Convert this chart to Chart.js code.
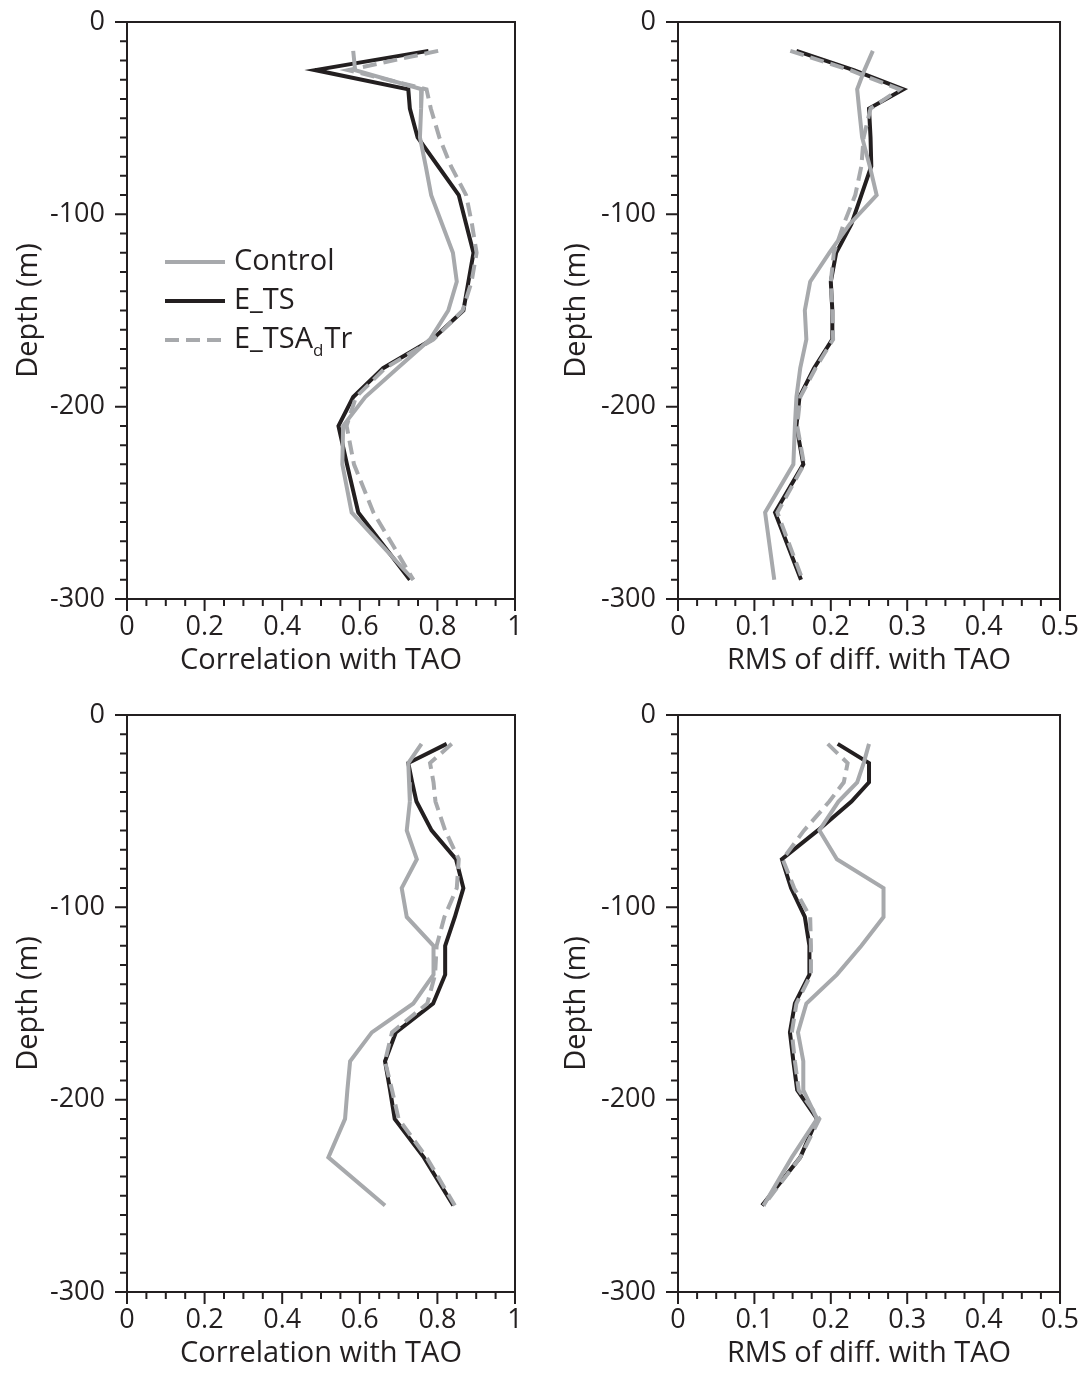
<!DOCTYPE html>
<html>
<head>
<meta charset="utf-8">
<script src="https://cdn.jsdelivr.net/npm/chart.js@4.4.1/dist/chart.umd.min.js"></script>
<style>
  body { margin: 0; background: #fff; width: 1091px; height: 1374px; overflow: hidden; position: relative; }
  canvas { position: absolute; }
</style>
</head>
<body>
<canvas id="corrTop" width="545" height="690" style="left:0;top:0"></canvas>
<canvas id="rmsTop" width="543" height="690" style="left:548px;top:0"></canvas>
<canvas id="corrBottom" width="545" height="690" style="left:0;top:693px"></canvas>
<canvas id="rmsBottom" width="543" height="690" style="left:548px;top:693px"></canvas>
<script>
// depth levels (m)
const depthsTop = [15, 25, 35, 45, 60, 75, 90, 105, 120, 135, 150, 165, 180, 195, 210, 230, 255, 290];
const depthsBottom = [15, 25, 35, 45, 60, 75, 90, 105, 120, 135, 150, 165, 180, 195, 210, 230, 255];

// top row: correlation with TAO
const corrControlTop = [0.583, 0.588, 0.76, 0.758, 0.755, 0.77, 0.784, 0.812, 0.84, 0.85, 0.828, 0.781, 0.697, 0.614, 0.557, 0.555, 0.579, 0.738];
const corrETSTop = [0.777, 0.485, 0.725, 0.729, 0.749, 0.802, 0.855, 0.874, 0.893, 0.88, 0.867, 0.787, 0.66, 0.583, 0.545, 0.567, 0.596, 0.729];
const corrTrTop = [0.802, 0.57, 0.772, 0.783, 0.805, 0.835, 0.874, 0.889, 0.901, 0.888, 0.865, 0.79, 0.665, 0.59, 0.566, 0.585, 0.635, 0.738];

// top row: RMS of difference with TAO
const rmsControlTop = [0.255, 0.244, 0.2345, 0.237, 0.241, 0.251, 0.26, 0.225, 0.198, 0.173, 0.166, 0.168, 0.16, 0.155, 0.153, 0.151, 0.114, 0.126];
const rmsETSTop = [0.155, 0.23, 0.295, 0.25, 0.252, 0.253, 0.24, 0.227, 0.207, 0.2, 0.202, 0.202, 0.178, 0.159, 0.155, 0.164, 0.127, 0.161];
const rmsTrTop = [0.147, 0.225, 0.29, 0.252, 0.243, 0.24, 0.232, 0.217, 0.204, 0.2, 0.202, 0.203, 0.18, 0.16, 0.156, 0.165, 0.13, 0.163];

// bottom row: correlation with TAO
const corrControlBottom = [0.759, 0.725, 0.727, 0.729, 0.721, 0.747, 0.708, 0.721, 0.79, 0.79, 0.738, 0.631, 0.575, 0.568, 0.562, 0.519, 0.665];
const corrETSBottom = [0.824, 0.725, 0.735, 0.746, 0.785, 0.848, 0.867, 0.845, 0.82, 0.82, 0.789, 0.693, 0.665, 0.678, 0.69, 0.765, 0.841];
const corrTrBottom = [0.837, 0.781, 0.79, 0.795, 0.82, 0.855, 0.85, 0.818, 0.798, 0.794, 0.774, 0.683, 0.665, 0.683, 0.7, 0.772, 0.845];

// bottom row: RMS of difference with TAO
const rmsControlBottom = [0.25, 0.243, 0.2345, 0.21, 0.185, 0.208, 0.269, 0.269, 0.24, 0.208, 0.168, 0.157, 0.164, 0.164, 0.182, 0.149, 0.112];
const rmsETSBottom = [0.209, 0.25, 0.25, 0.227, 0.183, 0.136, 0.148, 0.166, 0.172, 0.172, 0.153, 0.1465, 0.151, 0.156, 0.182, 0.16, 0.11];
const rmsTrBottom = [0.196, 0.222, 0.217, 0.198, 0.165, 0.137, 0.152, 0.173, 0.174, 0.174, 0.155, 0.149, 0.153, 0.158, 0.185, 0.16, 0.112];

const seriesNames = ['Control', 'E_TS', 'E_TSA_dTr'];
const corrTicks = ['0', '0.2', '0.4', '0.6', '0.8', '1'];
const rmsTicks = ['0', '0.1', '0.2', '0.3', '0.4', '0.5'];

const ink = '#231f20';
const grey = '#a7a9ac';
const FONT = '"Open Sans", "Noto Sans", sans-serif';
const tickSize = 27;
const titleSize = 29;

function profile(values, depths) {
    return values.map((v, i) => ({ x: v, y: -depths[i] }));
}

// box round the plot + outward ticks (major and minor)
const frameTicks = {
    id: 'frameTicks',
    afterDraw(chart, args, opts) {
        const { ctx, chartArea: a, scales: { x, y } } = chart;
        ctx.save();
        ctx.strokeStyle = ink;
        ctx.lineWidth = 2;
        ctx.strokeRect(a.left, a.top, a.right - a.left, a.bottom - a.top);
        ctx.beginPath();
        for (let d = 0; d <= 300; d += 10) {
            const py = y.getPixelForValue(-d);
            const len = d % 100 === 0 ? 12 : 7;
            ctx.moveTo(a.left - len, py);
            ctx.lineTo(a.left, py);
        }
        for (let i = 0; i <= 20; i++) {
            const px = x.getPixelForValue(i * opts.minor);
            const len = i % 4 === 0 ? 12 : 7;
            ctx.moveTo(px, a.bottom);
            ctx.lineTo(px, a.bottom + len);
        }
        ctx.stroke();
        ctx.restore();
    }
};

// legend with subscript, only on first panel
const profileLegend = {
    id: 'profileLegend',
    afterDraw(chart, args, opts) {
        if (!opts.show) return;
        const { ctx, chartArea: a } = chart;
        const rows = [262, 301, 340];
        ctx.save();
        ctx.font = titleSize + 'px ' + FONT;
        ctx.textBaseline = 'middle';
        chart.data.datasets.slice().sort((p, q) => p.legendIdx - q.legendIdx).forEach((ds, i) => {
            const yy = rows[i];
            ctx.strokeStyle = ds.borderColor;
            ctx.lineWidth = ds.borderWidth;
            ctx.setLineDash(ds.borderDash || []);
            ctx.beginPath();
            ctx.moveTo(a.left + 38, yy);
            ctx.lineTo(a.left + 98, yy);
            ctx.stroke();
            ctx.setLineDash([]);
            ctx.fillStyle = ink;
            let tx = a.left + 107;
            const name = seriesNames[ds.legendIdx];
            const parts = name.split('_d');
            if (parts.length === 2) {
                ctx.fillText(parts[0], tx, yy);
                tx += ctx.measureText(parts[0]).width;
                ctx.font = Math.round(titleSize * 0.6) + 'px ' + FONT;
                ctx.fillText('d', tx, yy + 11);
                tx += ctx.measureText('d').width + 1;
                ctx.font = titleSize + 'px ' + FONT;
                ctx.fillText(parts[1], tx, yy);
            } else {
                ctx.fillText(name, tx, yy);
            }
        });
        ctx.restore();
    }
};

function makePanel(id, depths, control, ets, tr, xMax, step, labels, title, yWidth, padRight, legend) {
    const ctx = document.getElementById(id).getContext('2d');
    return new Chart(ctx, {
        type: 'scatter',
        data: {
            datasets: [
                { label: seriesNames[2], legendIdx: 2, data: profile(tr, depths), borderColor: grey, borderWidth: 4, borderDash: [14, 7] },
                { label: seriesNames[0], legendIdx: 0, data: profile(control, depths), borderColor: grey, borderWidth: 4 },
                { label: seriesNames[1], legendIdx: 1, data: profile(ets, depths), borderColor: ink, borderWidth: 4 }
            ].map(ds => Object.assign(ds, { showLine: true, pointRadius: 0, tension: 0, fill: false, borderJoinStyle: 'miter' }))
        },
        options: {
            responsive: false,
            animation: false,
            events: [],
            layout: { padding: { top: 22, right: padRight, bottom: 0, left: 0 } },
            plugins: {
                legend: { display: false },
                tooltip: { enabled: false },
                frameTicks: { minor: step / 4 },
                profileLegend: { show: legend }
            },
            scales: {
                x: {
                    type: 'linear',
                    min: 0,
                    max: xMax,
                    afterFit: s => { s.height = 91; },
                    afterBuildTicks: s => { s.ticks = labels.map(t => ({ value: parseFloat(t) })); },
                    grid: { display: false, drawTicks: false },
                    border: { display: false },
                    ticks: {
                        padding: 12,
                        color: ink,
                        font: { family: FONT, size: tickSize },
                        maxRotation: 0,
                        callback: (v, i) => labels[i]
                    },
                    title: { display: true, text: title, color: ink, font: { family: FONT, size: titleSize }, padding: { top: 0, bottom: 12 } }
                },
                y: {
                    type: 'linear',
                    min: -300,
                    max: 0,
                    afterFit: s => { s.width = yWidth; s.paddingTop = 0; s.paddingBottom = 0; },
                    grid: { display: false, drawTicks: false },
                    border: { display: false },
                    ticks: {
                        stepSize: 100,
                        padding: 22,
                        color: ink,
                        font: { family: FONT, size: tickSize }
                    },
                    title: { display: true, text: 'Depth (m)', color: ink, font: { family: FONT, size: titleSize }, padding: { top: 11, bottom: 0 } }
                }
            }
        },
        plugins: [frameTicks, profileLegend]
    });
}

document.fonts.load(tickSize + 'px "Open Sans"').then(draw, draw);

function draw() {
    makePanel('corrTop', depthsTop, corrControlTop, corrETSTop, corrTrTop, 1, 0.2, corrTicks, 'Correlation with TAO', 127, 30, true);
    makePanel('rmsTop', depthsTop, rmsControlTop, rmsETSTop, rmsTrTop, 0.5, 0.1, rmsTicks, 'RMS of diff. with TAO', 130, 25, false);
    makePanel('corrBottom', depthsBottom, corrControlBottom, corrETSBottom, corrTrBottom, 1, 0.2, corrTicks, 'Correlation with TAO', 127, 30, false);
    makePanel('rmsBottom', depthsBottom, rmsControlBottom, rmsETSBottom, rmsTrBottom, 0.5, 0.1, rmsTicks, 'RMS of diff. with TAO', 130, 25, false);
}
</script>
</body>
</html>
